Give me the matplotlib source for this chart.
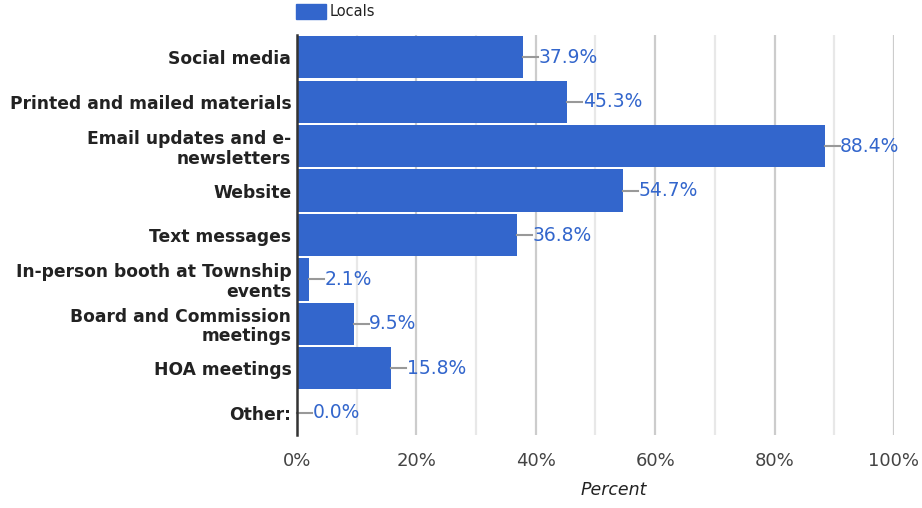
import numpy as np
import matplotlib.pyplot as plt
from matplotlib.patches import Rectangle

plt.rcParams['font.family'] = ['DejaVu Sans']

# data
categories = ['Social media', 'Printed and mailed materials',
              'Email updates and e-\nnewsletters', 'Website', 'Text messages',
              'In-person booth at Township\nevents', 'Board and Commission\nmeetings',
              'HOA meetings', 'Other:']
values = [37.9, 45.3, 88.4, 54.7, 36.8, 2.1, 9.5, 15.8, 0.0]
xticks = [0, 20, 40, 60, 80, 100]
series_name = 'Locals'

blue = '#3366cc'

fig = plt.figure(figsize=(9.22, 5.08), dpi=100)
ax = fig.add_axes([0.322, 0.1437, 0.6476, 0.7873])

y = np.arange(len(categories))
ax.barh(y, values, height=0.95, color=blue, zorder=3)

ax.set_xlim(0, 100)
ax.set_ylim(len(categories) - 0.5, -0.5)

# grid
for v in range(10, 101, 10):
    if v % 20 == 0:
        ax.axvline(v, color='#cccccc', lw=1.6, zorder=1)
    else:
        ax.axvline(v, color='#e8e8e8', lw=1.6, zorder=1)

# leader lines and value labels
px = 100 / (0.6476 * 922)  # data units per pixel
for yi, v in zip(y, values):
    ax.plot([v, v + 15 * px], [yi, yi], color='#999999', lw=1.5, zorder=4,
            clip_on=False)
    ax.text(v + 15.5 * px, yi, '{:.1f}%'.format(v), color=blue, fontsize=13.5,
            va='center', ha='left', zorder=5)

ax.set_yticks(y)
ax.set_yticklabels(categories, fontsize=12.3, fontweight='bold', color='#222222',
                   linespacing=1.1)
ax.set_xticks(xticks)
ax.set_xticklabels(['{}%'.format(t) for t in xticks], fontsize=13, color='#444444')
ax.tick_params(axis='both', length=0, pad=4)
ax.tick_params(axis='x', pad=12)

for s in ['top', 'right', 'bottom']:
    ax.spines[s].set_visible(False)
ax.spines['left'].set_color('#333333')
ax.spines['left'].set_linewidth(1.8)
ax.spines['left'].set_zorder(6)

fig.text(614 / 922, 1 - 490 / 508, 'Percent', fontsize=12.5, style='italic',
         color='#222222', ha='center', va='center')

# legend
fig.patches.append(Rectangle((296 / 922, 1 - 19 / 508), 30 / 922, 15 / 508,
                             transform=fig.transFigure, color=blue))
fig.text(330 / 922, 1 - 12 / 508, series_name, fontsize=10.5, color='#222222',
         ha='left', va='center')

fig.savefig('out.png', dpi=100)
